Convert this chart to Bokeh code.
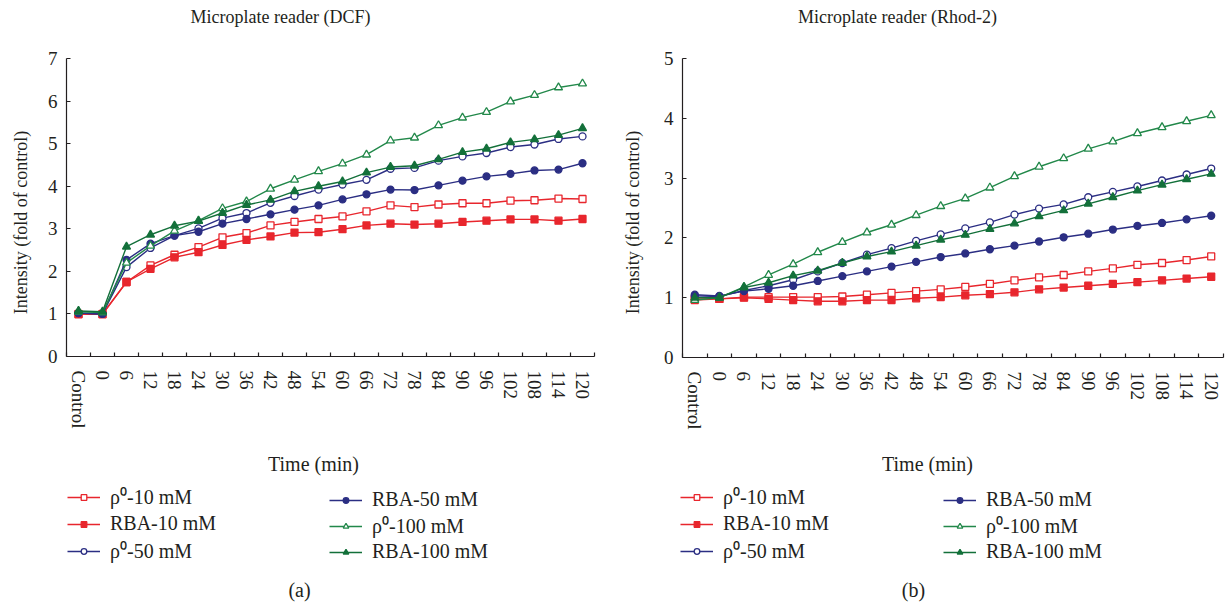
import math
from bokeh.plotting import figure
from bokeh.models import FixedTicker, Legend, LegendItem, Label
from bokeh.layouts import row, column
from bokeh.embed import file_html
from bokeh.resources import INLINE

# ---------------- data ----------------
time_labels = ["Control", "0", "6", "12", "18", "24", "30", "36", "42", "48", "54",
               "60", "66", "72", "78", "84", "90", "96", "102", "108", "114", "120"]

series_names = ["ρ⁰-10 mM", "RBA-10 mM", "ρ⁰-50 mM", "RBA-50 mM", "ρ⁰-100 mM", "RBA-100 mM"]

dcf_rho10 = [1.0, 1.0, 1.75, 2.14, 2.39, 2.57, 2.80, 2.90, 3.08, 3.16, 3.23, 3.29, 3.41, 3.55, 3.51, 3.57, 3.60, 3.60, 3.66, 3.67, 3.71, 3.70]
dcf_rba10 = [0.99, 0.99, 1.75, 2.06, 2.33, 2.45, 2.62, 2.74, 2.82, 2.91, 2.92, 2.99, 3.08, 3.12, 3.10, 3.12, 3.16, 3.19, 3.22, 3.22, 3.19, 3.23]
dcf_rho50 = [1.02, 1.0, 2.10, 2.55, 2.84, 3.01, 3.25, 3.37, 3.61, 3.77, 3.92, 4.04, 4.15, 4.41, 4.43, 4.60, 4.70, 4.78, 4.92, 4.98, 5.11, 5.17]
dcf_rba50 = [1.02, 1.0, 2.27, 2.65, 2.84, 2.93, 3.12, 3.23, 3.34, 3.45, 3.55, 3.69, 3.81, 3.92, 3.91, 4.02, 4.13, 4.23, 4.29, 4.37, 4.39, 4.54]
dcf_rho100 = [1.05, 1.03, 2.20, 2.60, 2.95, 3.19, 3.48, 3.64, 3.94, 4.15, 4.35, 4.53, 4.74, 5.07, 5.14, 5.43, 5.61, 5.74, 5.99, 6.14, 6.32, 6.41]
dcf_rba100 = [1.07, 1.05, 2.58, 2.86, 3.07, 3.18, 3.37, 3.56, 3.68, 3.88, 4.00, 4.11, 4.32, 4.45, 4.48, 4.63, 4.80, 4.88, 5.03, 5.10, 5.20, 5.36]

rhod_rho10 = [0.96, 0.98, 1.01, 1.01, 1.01, 1.01, 1.02, 1.05, 1.08, 1.11, 1.14, 1.18, 1.23, 1.29, 1.34, 1.38, 1.44, 1.49, 1.55, 1.58, 1.63, 1.69]
rhod_rba10 = [0.98, 0.98, 1.00, 0.98, 0.96, 0.94, 0.94, 0.96, 0.96, 0.99, 1.01, 1.04, 1.06, 1.09, 1.14, 1.17, 1.20, 1.23, 1.26, 1.29, 1.32, 1.35]
rhod_rho50 = [1.03, 1.02, 1.12, 1.20, 1.30, 1.44, 1.58, 1.72, 1.83, 1.95, 2.06, 2.16, 2.26, 2.39, 2.49, 2.56, 2.68, 2.77, 2.86, 2.96, 3.06, 3.16]
rhod_rba50 = [1.05, 1.03, 1.11, 1.15, 1.20, 1.28, 1.36, 1.44, 1.52, 1.60, 1.68, 1.74, 1.81, 1.87, 1.94, 2.01, 2.07, 2.14, 2.20, 2.25, 2.31, 2.37]
rhod_rho100 = [0.96, 1.00, 1.18, 1.38, 1.56, 1.76, 1.93, 2.09, 2.22, 2.38, 2.53, 2.66, 2.84, 3.03, 3.19, 3.33, 3.49, 3.61, 3.75, 3.85, 3.95, 4.05]
rhod_rba100 = [1.00, 1.00, 1.17, 1.25, 1.37, 1.45, 1.58, 1.69, 1.77, 1.87, 1.97, 2.05, 2.15, 2.24, 2.36, 2.46, 2.57, 2.68, 2.79, 2.89, 2.98, 3.07]

# ---------------- style ----------------
FONT = "Liberation Serif"
TXT = "#231f20"
RED = "#E8262D"
BLUE = "#2B2E83"
GREEN_L = "#22884A"
GREEN_D = "#13703A"

styles = [
    dict(color=RED, marker="square", fill="white", size=7),
    dict(color=RED, marker="square", fill=RED, size=7),
    dict(color=BLUE, marker="circle", fill="white", size=7),
    dict(color=BLUE, marker="circle", fill=BLUE, size=7),
    dict(color=GREEN_L, marker="triangle", fill="white", size=8),
    dict(color=GREEN_D, marker="triangle", fill=GREEN_D, size=8),
]

TOP_H = 40
MID_H = 400
BOT_H = 166
NAN = float("nan")


def blank(width, height):
    f = figure(width=width, height=height, x_range=(0, 1), y_range=(0, 1),
               output_backend="svg", toolbar_location=None, x_axis_type=None,
               y_axis_type=None, min_border=0, min_border_left=0, min_border_right=0,
               min_border_top=0, min_border_bottom=0)
    f.outline_line_color = None
    f.xgrid.visible = False
    f.ygrid.visible = False
    return f


def add_label(f, text, x, y, size, angle=0.0, align="center"):
    f.add_layout(Label(x=x, y=y, x_units="screen", y_units="screen", text=text,
                       text_font=FONT, text_font_size=size, text_color=TXT,
                       text_align=align, text_baseline="middle", angle=angle))


def make_panel(series, ymax, width, ystrip_w, left, right, frame_bottom, title, title_x,
               ylab_x, xlab_x, tag, leg1_x, leg2_x):
    # title strip
    ft = blank(width, TOP_H)
    add_label(ft, title, title_x, TOP_H - 16, "18px")

    # y label strip: its frame is aligned with the main plot frame by the row layout
    fl = blank(ystrip_w, MID_H)
    add_label(fl, "Intensity (fold of control)", ylab_x, frame_bottom - 222, "18px",
              angle=math.pi / 2)

    # main plot
    mw = width - ystrip_w
    p = figure(width=mw, height=MID_H, x_range=(-0.5, len(time_labels) - 0.5),
               y_range=(0, ymax), output_backend="svg", toolbar_location=None,
               min_border_left=left, min_border_right=right, min_border_top=58 - TOP_H,
               min_border_bottom=TOP_H + MID_H - frame_bottom)
    p.outline_line_color = None
    p.xgrid.visible = False
    p.ygrid.visible = False

    xs = list(range(len(time_labels)))
    for ys, st in zip(series, styles):
        p.line(xs, ys, line_color=st["color"], line_width=1.4)
        p.scatter(xs, ys, marker=st["marker"], size=st["size"],
                  line_color=st["color"], fill_color=st["fill"], line_width=1.3)

    xa = p.xaxis[0]
    xa.ticker = FixedTicker(ticks=xs, minor_ticks=[i - 0.5 for i in range(len(time_labels) + 1)])
    xa.major_label_overrides = {i: lab for i, lab in enumerate(time_labels)}
    xa.major_label_orientation = "vertical"
    xa.major_tick_in = 0
    xa.major_tick_out = 0
    xa.minor_tick_in = 4
    xa.minor_tick_out = 0
    xa.major_label_standoff = 14
    ya = p.yaxis[0]
    ya.ticker = FixedTicker(ticks=list(range(0, ymax + 1)))
    ya.major_tick_in = 4
    ya.major_tick_out = 0
    ya.minor_tick_in = 0
    ya.minor_tick_out = 0
    ya.major_label_standoff = 9
    for ax in (xa, ya):
        ax.axis_line_color = TXT
        ax.axis_line_width = 1.2
        ax.major_tick_line_color = TXT
        ax.minor_tick_line_color = TXT
        ax.major_tick_line_width = 1.2
        ax.minor_tick_line_width = 1.2
        ax.major_label_text_font = FONT
        ax.major_label_text_font_size = "19px"
        ax.major_label_text_color = TXT

    # bottom strip: axis title, legend, panel tag
    fb = blank(width, BOT_H)
    y0 = TOP_H + MID_H + BOT_H  # canvas y of strip bottom
    add_label(fb, "Time (min)", xlab_x, y0 - 463, "20px")
    add_label(fb, tag, xlab_x - 14, y0 - 589, "20px")
    items = []
    for name, st in zip(series_names, styles):
        lr = fb.line([NAN], [NAN], line_color=st["color"], line_width=1.4)
        sr = fb.scatter([NAN], [NAN], marker=st["marker"], size=st["size"],
                        line_color=st["color"], fill_color=st["fill"], line_width=1.3)
        items.append(LegendItem(label=name, renderers=[lr, sr], index=0))
    for its, lx, sp, bot in ((items[:3], leg1_x, 2, 564), (items[3:], leg2_x, 1, 563)):
        leg = Legend(items=its, location=(lx, y0 - bot), orientation="vertical",
                     glyph_width=33, glyph_height=14, label_height=20, spacing=sp,
                     label_standoff=10, padding=0, margin=0, border_line_color=None,
                     background_fill_alpha=0, label_text_font=FONT,
                     label_text_font_size="20px", label_text_color=TXT,
                     label_text_baseline="middle")
        fb.add_layout(leg)

    return column(ft, row(fl, p), fb)


left_panel = make_panel([dcf_rho10, dcf_rba10, dcf_rho50, dcf_rba50, dcf_rho100, dcf_rba100],
                        7, 620, 40, 26, 26, 356, "Microplate reader (DCF)", 280, 20, 313,
                        "(a)", 67, 329)
right_panel = make_panel([rhod_rho10, rhod_rba10, rhod_rho50, rhod_rba50, rhod_rho100, rhod_rba100],
                         5, 607, 40, 21, 4, 357, "Microplate reader (Rhod-2)", 897 - 620,
                         632 - 620, 927 - 620, "(b)", 680 - 620, 943 - 620)

layout = row(left_panel, right_panel)
open("out.html", "w").write(file_html(layout, INLINE))
